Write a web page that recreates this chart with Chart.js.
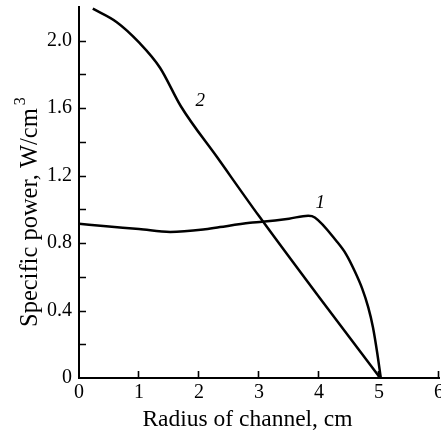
<!DOCTYPE html>
<html>
<head>
<meta charset="utf-8">
<script src="https://cdn.jsdelivr.net/npm/chart.js@4"></script>
<style>
  html, body { margin: 0; padding: 0; background: #fff; }
  #wrap { width: 441px; height: 432px; }
</style>
</head>
<body>
<div id="wrap"><canvas id="grafico" width="441" height="432"></canvas></div>
<script>
// =========================
// DATA
// =========================
const curve1X = [0, 0.5, 1.0, 1.52, 2.07, 2.35, 2.85, 3.05, 3.5, 3.82, 3.93, 4.3, 4.45, 4.6, 4.72, 4.82, 4.9, 4.97, 5.03];
const curve1Y = [0.914, 0.898, 0.884, 0.866, 0.88, 0.895, 0.92, 0.926, 0.945, 0.962, 0.952, 0.808, 0.735, 0.63, 0.53, 0.42, 0.30, 0.15, 0];

const curve2X = [0.23, 0.63, 1.0, 1.35, 1.7, 2.3, 3.0, 4.0, 5.02];
const curve2Y = [2.19, 2.11, 1.99, 1.84, 1.61, 1.31, 0.96, 0.48, 0];

const curveNames = ["1", "2"];
const xTitle = "Radius of channel, cm";
const yTitle = "Specific power, W/cm";
const yTitleSup = "3";

// =========================
// HELPERS
// =========================
const serif = "'Liberation Serif', 'Times New Roman', serif";

function toPoints(xs, ys) {
  return xs.map((x, i) => ({ x: x, y: ys[i] }));
}

// inward tick marks, axis titles and curve numbers
const decoPlugin = {
  id: "deco",
  afterDraw(chart) {
    const ctx = chart.ctx;
    const xs = chart.scales.x;
    const ys = chart.scales.y;
    const area = chart.chartArea;

    ctx.save();
    ctx.strokeStyle = "#000";
    ctx.lineWidth = 1.6;
    ctx.beginPath();
    ys.ticks.forEach(t => {
      if (t.value <= 0 || t.value >= ys.max - 1e-6) return;
      const py = Math.round(ys.getPixelForValue(t.value)) + 0.5;
      ctx.moveTo(area.left, py);
      ctx.lineTo(area.left + 7, py);
    });
    xs.ticks.forEach(t => {
      if (t.value <= 0) return;
      const px = Math.round(xs.getPixelForValue(t.value)) - 0.5;
      ctx.moveTo(px, area.bottom);
      ctx.lineTo(px, area.bottom - 7);
    });
    ctx.stroke();

    // x title
    ctx.fillStyle = "#000";
    ctx.font = "23.5px " + serif;
    ctx.textAlign = "center";
    ctx.textBaseline = "alphabetic";
    ctx.fillText(xTitle, 247.5, 426);

    // y title, rotated, with superscript
    ctx.save();
    ctx.translate(37, 327);
    ctx.rotate(-Math.PI / 2);
    ctx.textAlign = "left";
    ctx.font = "24.5px " + serif;
    ctx.fillText(yTitle, 0, 0);
    const w = ctx.measureText(yTitle).width;
    ctx.font = "16px " + serif;
    ctx.fillText(yTitleSup, w + 3, -12);
    ctx.restore();

    // curve numbers
    ctx.font = "italic 19px " + serif;
    ctx.textAlign = "center";
    ctx.textBaseline = "middle";
    ctx.fillText(curveNames[0], xs.getPixelForValue(4.02), ys.getPixelForValue(1.04));
    ctx.fillText(curveNames[1], xs.getPixelForValue(2.02), ys.getPixelForValue(1.64));
    ctx.restore();
  }
};

// =========================
// CHART
// =========================
const ctx = document.getElementById("grafico").getContext("2d");

new Chart(ctx, {
  type: "line",
  data: {
    datasets: [
      {
        label: "1",
        data: toPoints(curve1X, curve1Y),
        borderColor: "#000",
        borderWidth: 2.5,
        pointRadius: 0,
        fill: false,
        cubicInterpolationMode: "monotone"
      },
      {
        label: "2",
        data: toPoints(curve2X, curve2Y),
        borderColor: "#000",
        borderWidth: 2.5,
        pointRadius: 0,
        fill: false,
        cubicInterpolationMode: "monotone"
      }
    ]
  },
  options: {
    responsive: false,
    animation: false,
    devicePixelRatio: 1,
    layout: { padding: { top: 7, right: 2, left: 0, bottom: 0 } },
    plugins: {
      legend: { display: false },
      tooltip: { enabled: false }
    },
    scales: {
      x: {
        type: "linear",
        min: 0,
        max: 6,
        grid: { display: false, drawTicks: false },
        border: { display: true, color: "#000", width: 2 },
        ticks: {
          stepSize: 1,
          padding: 3,
          color: "#000",
          font: { family: serif, size: 20 },
          maxRotation: 0
        },
        afterFit(scale) {
          scale.height = 54;
          scale.paddingLeft = 0;
          scale.paddingRight = 0;
        }
      },
      y: {
        type: "linear",
        min: 0,
        max: 2.2,
        grid: { display: false, drawTicks: false },
        border: { display: true, color: "#000", width: 2 },
        ticks: {
          stepSize: 0.2,
          padding: 7,
          color: "#000",
          font: { family: serif, size: 20 },
          callback: v => {
            const k = Math.round(v * 10);
            if (k % 4 !== 0) return "";
            return k === 0 ? "0" : (k / 10).toFixed(1);
          }
        },
        afterFit(scale) {
          scale.width = 79;
          scale.paddingTop = 0;
          scale.paddingBottom = 0;
        }
      }
    }
  },
  plugins: [decoPlugin]
});
</script>
</body>
</html>
